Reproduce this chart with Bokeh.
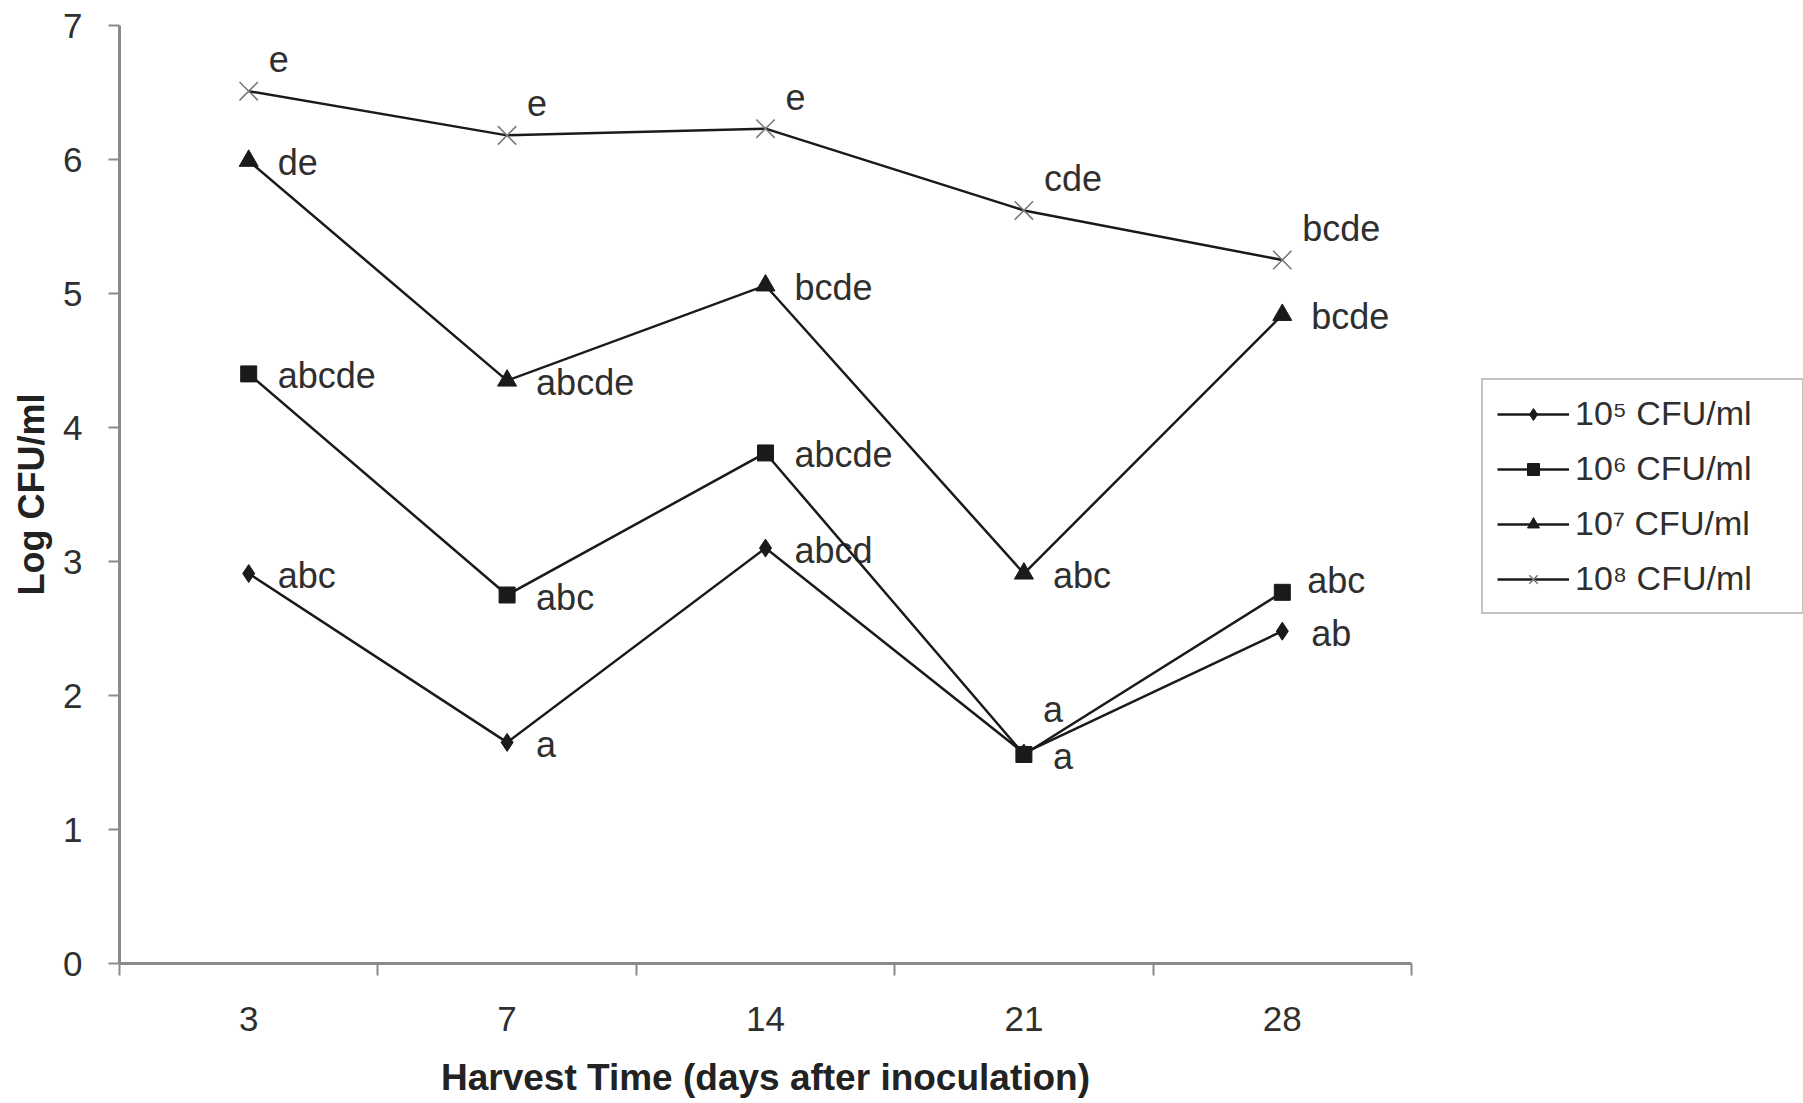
from bokeh.plotting import figure
from bokeh.models import (FixedTicker, Legend, LegendItem, Range1d,
                          ColumnDataSource)
from bokeh.core.properties import value
from bokeh.embed import file_html
from bokeh.resources import INLINE

# ---------------- data ----------------
days = ["3", "7", "14", "21", "28"]
y_ticks = [0, 1, 2, 3, 4, 5, 6, 7]

names = ["10\u2075 CFU/ml", "10\u2076 CFU/ml", "10\u2077 CFU/ml", "10\u2078 CFU/ml"]

cfu_1e5 = [2.91, 1.65, 3.10, 1.57, 2.48]
cfu_1e6 = [4.40, 2.75, 3.81, 1.56, 2.77]
cfu_1e7 = [5.99, 4.35, 5.06, 2.91, 4.84]
cfu_1e8 = [6.51, 6.18, 6.23, 5.62, 5.25]

letters_1e5 = ["abc", "a", "abcd", "a", "ab"]
letters_1e6 = ["abcde", "abc", "abcde", "a", "abc"]
letters_1e7 = ["de", "abcde", "bcde", "abc", "bcde"]
letters_1e8 = ["e", "e", "e", "cde", "bcde"]

# ---------------- styling ----------------
FONT = "Liberation Sans"
TXT = "#2f2f2f"
AXC = "#8a8a8a"
LINE = "#1a1a1a"

FRAME_W, FRAME_H = 1292, 938
LEFT, TOP, BOTTOM = 119, 25, 120

# label placement (screen offsets, px) per series/point
place = {
    "right": (29, 2),
    "above": (20, -32),
    "upper_right": (25, -12),
    "high": (19, -44),
}
label_place = [
    ["right", "right", "right", "high", "right"],
    ["right", "right", "right", "right", "upper_right"],
    ["right", "right", "right", "right", "right"],
    ["above", "above", "above", "above", "above"],
]

series = [cfu_1e5, cfu_1e6, cfu_1e7, cfu_1e8]
letters = [letters_1e5, letters_1e6, letters_1e7, letters_1e8]
markers = [
    dict(marker="diamond", size=18, fill_color=LINE, line_color=LINE, line_width=1),
    dict(marker="square", size=16, fill_color=LINE, line_color=LINE, line_width=1),
    dict(marker="triangle", size=19, fill_color=LINE, line_color=LINE, line_width=1),
    dict(marker="x", size=26, fill_color=None, line_color="#7a7a7a", line_width=1.6),
]

xpos = [i + 0.5 for i in range(len(days))]

p = figure(frame_width=FRAME_W, frame_height=FRAME_H,
           output_backend="svg", toolbar_location=None,
           x_range=Range1d(0, len(days)), y_range=Range1d(0, 7),
           min_border_left=LEFT, min_border_top=TOP, min_border_bottom=BOTTOM,
           min_border_right=0)
p.outline_line_color = None
p.xgrid.visible = False
p.ygrid.visible = False
p.background_fill_color = "white"
p.border_fill_color = "white"

# x axis: labels at category centres, ticks at category boundaries
xa = p.xaxis[0]
xa.ticker = FixedTicker(ticks=xpos, minor_ticks=list(range(len(days) + 1)))
xa.major_label_overrides = {x: d for x, d in zip(xpos, days)}
xa.major_tick_out = 0
xa.major_tick_in = 0
xa.minor_tick_out = 12
xa.minor_tick_in = 0
xa.minor_tick_line_color = AXC
xa.minor_tick_line_width = 2
xa.axis_line_color = AXC
xa.axis_line_width = 3
xa.major_label_text_font = FONT
xa.major_label_text_font_size = "35px"
xa.major_label_text_color = TXT
xa.major_label_standoff = 31
xa.axis_label = "Harvest Time (days after inoculation)"
xa.axis_label_text_font = FONT
xa.axis_label_text_font_style = "bold"
xa.axis_label_text_font_size = "37px"
xa.axis_label_text_color = "#222222"
xa.axis_label_standoff = 23

ya = p.yaxis[0]
ya.ticker = FixedTicker(ticks=y_ticks)
ya.minor_tick_line_color = None
ya.major_tick_out = 11
ya.major_tick_in = 0
ya.major_tick_line_color = AXC
ya.major_tick_line_width = 2
ya.axis_line_color = AXC
ya.axis_line_width = 3
ya.major_label_text_font = FONT
ya.major_label_text_font_size = "35px"
ya.major_label_text_color = TXT
ya.major_label_standoff = 26
ya.axis_label = "Log CFU/ml"
ya.axis_label_text_font = FONT
ya.axis_label_text_font_style = "bold"
ya.axis_label_text_font_size = "36px"
ya.axis_label_text_color = "#222222"
ya.axis_label_standoff = 8

items = []
for vals, labs, mk, nm, plc in zip(series, letters, markers, names, label_place):
    src = ColumnDataSource(dict(
        x=xpos, y=vals, t=labs,
        dx=[place[k][0] for k in plc],
        dy=[place[k][1] for k in plc],
    ))
    p.text(x="x", y="y", text="t", x_offset="dx", y_offset="dy", source=src,
           text_font=value(FONT), text_font_size="36px", text_color=TXT,
           text_align="left", text_baseline="middle")
    ln = p.line(x="x", y="y", source=src, line_color=LINE, line_width=2.5)
    sc = p.scatter(x="x", y="y", source=src, **mk)
    items.append(LegendItem(label=nm, renderers=[ln, sc]))

# legend in the right-hand panel; location = (px from panel left, px from panel bottom)
legend = Legend(items=items, location=(70, 349), orientation="vertical")
legend.margin = 0
legend.padding = 14
legend.spacing = 16
legend.glyph_width = 72
legend.glyph_height = 30
legend.label_standoff = 6
legend.label_text_font = FONT
legend.label_text_font_size = "34px"
legend.label_text_color = TXT
legend.label_width = 213
legend.border_line_color = "#8a8a8a"
legend.border_line_width = 2
legend.background_fill_color = "white"
legend.background_fill_alpha = 1.0
p.add_layout(legend, "right")

open("out.html", "w").write(file_html(p, INLINE))
